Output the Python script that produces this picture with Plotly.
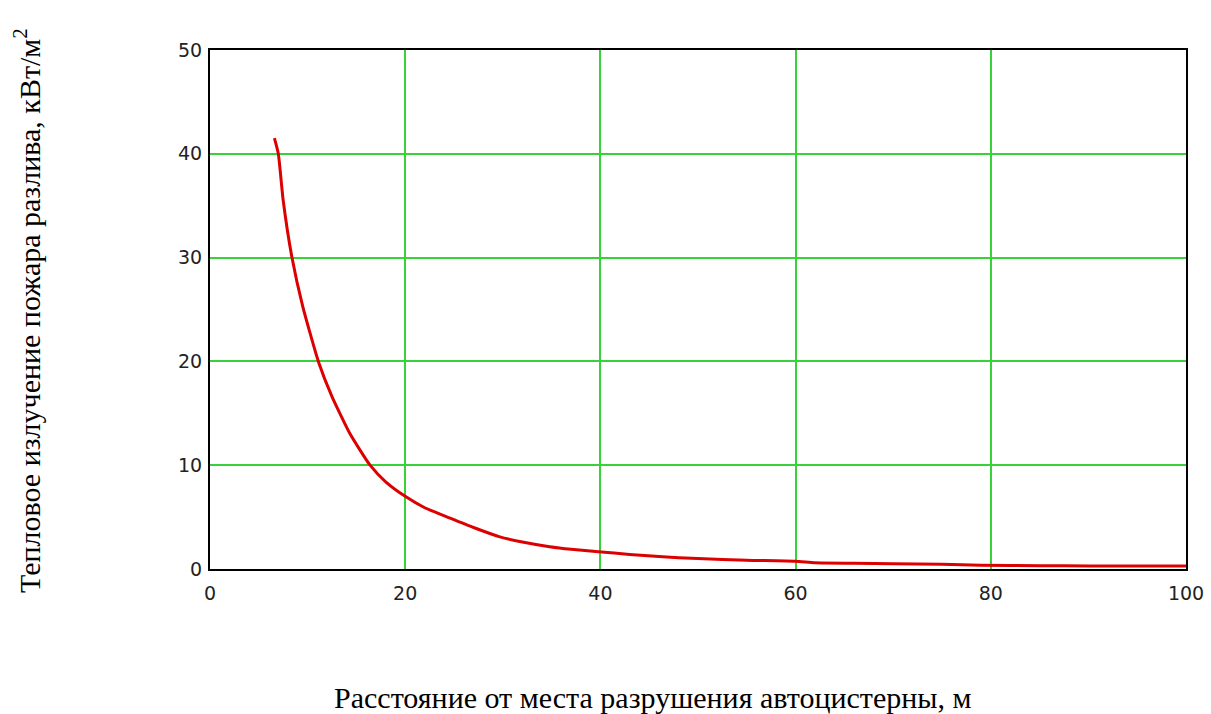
import plotly.graph_objects as go

# Distance from the tank truck failure point, m
distance_m = [6.6, 7.0, 7.5, 8.4, 9.5, 11.1, 12.5, 14.3, 16.4, 18.0, 20.0, 22.0,
              24.6, 27.0, 29.7, 32.0, 34.8, 37.0, 39.8, 43.0, 46.0, 50.0, 55.0,
              60.0, 62.0, 66.0, 70.0, 75.0, 79.0, 85.0, 90.0, 100.0]
# Thermal radiation of the spill fire, kW/m^2
heat_flux = [41.5, 40.0, 35.5, 30.0, 25.3, 20.0, 16.6, 13.1, 10.0, 8.4, 7.0, 5.9,
             4.9, 4.0, 3.1, 2.6, 2.15, 1.9, 1.67, 1.4, 1.2, 1.0, 0.85,
             0.75, 0.6, 0.55, 0.5, 0.45, 0.35, 0.32, 0.3, 0.28]

x_ticks = [0, 20, 40, 60, 80, 100]
y_ticks = [0, 10, 20, 30, 40, 50]

x_title = "Расстояние от места разрушения автоцистерны, м"
y_title = "Тепловое излучение пожара разлива, кВт/м<sup>2</sup>"

W, H = 1211, 714
L, R, T, B = 210, 25, 50, 145
plot_w = W - L - R
plot_h = H - T - B

fig = go.Figure()
fig.add_trace(go.Scatter(
    x=distance_m, y=heat_flux, mode="lines",
    line=dict(color="rgb(220,0,0)", width=3, shape="spline", smoothing=0.5),
    showlegend=False, hoverinfo="skip",
))

axis_common = dict(
    showline=True, linecolor="black", linewidth=2, mirror=True,
    showgrid=True, gridcolor="rgb(55,210,55)", gridwidth=2,
    zeroline=False, ticks="", automargin=False,
    tickfont=dict(family="DejaVu Sans", size=19, color="#222"),
)

fig.update_layout(
    width=W, height=H,
    margin=dict(l=L, r=R, t=T, b=B),
    paper_bgcolor="white", plot_bgcolor="white",
    xaxis=dict(range=[0, 100], tickvals=x_ticks, ticklabelstandoff=6, **axis_common),
    yaxis=dict(range=[0, 50], tickvals=y_ticks, ticklabelstandoff=2, **axis_common),
    annotations=[
        dict(text=x_title, xref="paper", yref="paper",
             x=(332 - L) / plot_w, y=-(697 - (H - B)) / plot_h,
             xanchor="left", yanchor="middle", showarrow=False,
             font=dict(family="Liberation Serif", size=30, color="black")),
        dict(text=y_title, xref="paper", yref="paper",
             x=(27 - L) / plot_w, y=((H - B) - 311) / plot_h,
             xanchor="center", yanchor="middle", showarrow=False, textangle=-90,
             font=dict(family="Liberation Serif", size=30, color="black")),
    ],
)

fig.write_html("out.html", config={"displayModeBar": False},
               post_script="document.body.style.margin='0';")
